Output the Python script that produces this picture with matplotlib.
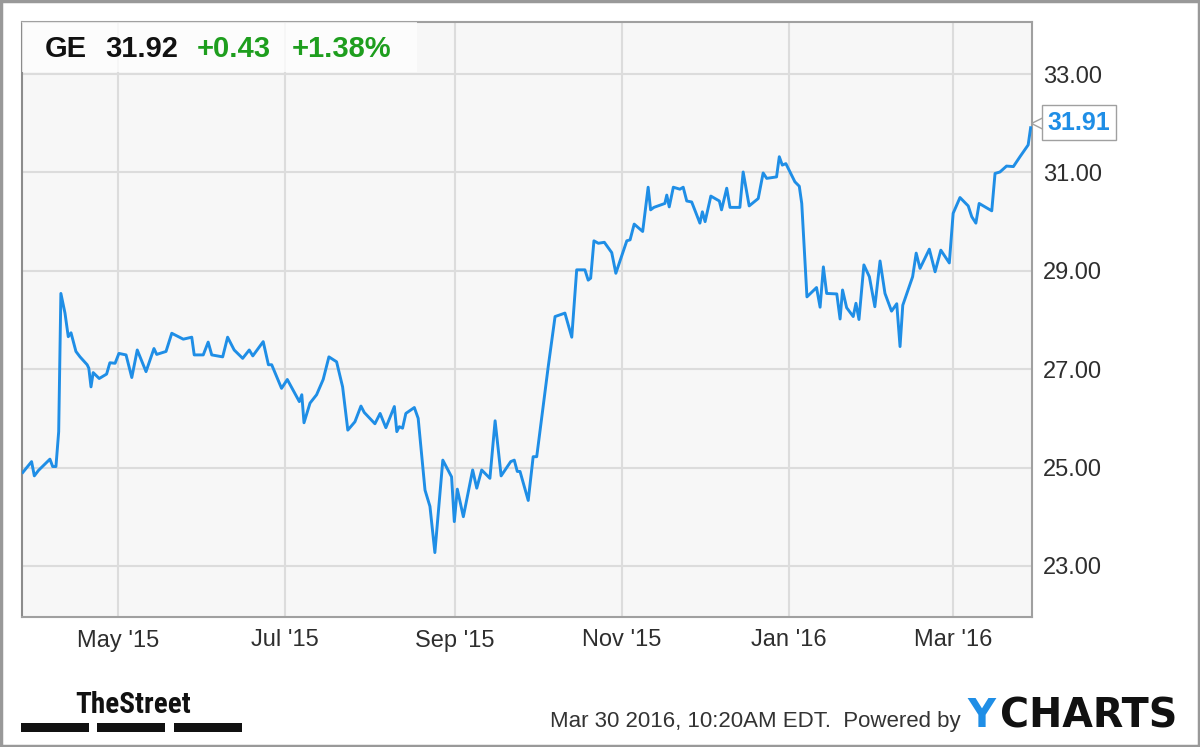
import matplotlib
matplotlib.use("Agg")
import matplotlib.pyplot as plt
import matplotlib.patches as mpatches
from matplotlib import transforms
import pandas as pd
import numpy as np

# ---------------- data ----------------
ticker = "GE"
last_price = "31.92"
change_abs = "+0.43"
change_pct = "+1.38%"
label_value = 31.91
start_date = "2015-03-27"

# days since start_date, and closing price
days = [0.3, 3.5, 4.5, 6.0, 10.2, 11.2, 12.4, 13.4, 14.2, 15.7, 16.9, 17.9, 19.7, 21.2,
        23.8, 24.4, 25.2, 26.0, 28.2, 30.9, 32.1, 34.0, 35.4, 38.0, 40.1, 42.1, 45.3,
        48.2, 49.2, 52.6, 54.7, 58.9, 62.0, 62.9, 66.2, 68.0, 69.3, 73.3, 75.1, 77.5,
        80.6, 83.0, 84.3, 88.1, 90.0, 91.2, 94.8, 96.9, 101.3, 102.2, 103.0, 105.2,
        107.6, 110.0, 112.1, 114.9, 117.1, 119.0, 121.6, 123.8, 125.0, 128.9, 130.8,
        132.9, 136.0, 136.9, 137.8, 139.0, 140.2, 143.3, 144.7, 147.2, 149.0, 150.8,
        153.7, 156.9, 157.9, 159.0, 161.2, 164.6, 166.1, 167.9, 170.9, 172.8, 175.0,
        178.5, 179.8, 180.9, 181.9, 184.9, 186.7, 188.0, 192.2, 194.7, 198.3, 200.8,
        202.6, 205.6, 206.8, 207.7, 208.9, 210.5, 212.7, 215.4, 216.9, 220.9, 222.1,
        223.6, 226.7, 228.7, 229.6, 230.8, 234.8, 235.5, 236.4, 237.9, 240.3, 241.5,
        242.8, 244.6, 247.6, 248.5, 249.5, 251.6, 254.7, 255.5, 257.4, 258.6, 262.2,
        263.4, 265.6, 268.9, 270.7, 272.0, 275.6, 276.6, 277.7, 279.0, 282.3, 283.9,
        284.8, 286.7, 290.2, 291.5, 292.7, 293.9, 297.6, 298.8, 299.7, 301.2, 303.6,
        304.6, 305.7, 307.5, 309.5, 311.5, 313.4, 315.2, 317.6, 319.5, 320.7, 321.7,
        325.3, 326.6, 328.0, 331.4, 333.5, 335.6, 338.7, 340.1, 342.6, 345.6, 346.9,
        348.4, 349.6, 354.2, 355.4, 357.2, 359.6, 362.1, 364.5, 367.5, 368.4]
prices = [24.90, 25.12, 24.83, 24.94, 25.17, 25.02, 25.02, 25.73, 28.54, 28.14, 27.66, 27.74,
          27.36, 27.25, 27.09, 27.02, 26.64, 26.93, 26.81, 26.90, 27.13, 27.12, 27.32, 27.29,
          26.83, 27.39, 26.95, 27.42, 27.30, 27.36, 27.73, 27.61, 27.65, 27.29, 27.29, 27.55,
          27.29, 27.25, 27.65, 27.39, 27.22, 27.39, 27.27, 27.56, 27.09, 27.09, 26.61, 26.79,
          26.34, 26.48, 25.91, 26.31, 26.48, 26.79, 27.25, 27.15, 26.64, 25.76, 25.93, 26.25,
          26.12, 25.89, 26.10, 25.81, 26.24, 25.73, 25.83, 25.80, 26.10, 26.22, 26.00, 24.54,
          24.21, 23.27, 25.15, 24.81, 23.90, 24.56, 24.00, 24.95, 24.58, 24.95, 24.78, 25.95,
          24.83, 25.12, 25.15, 24.92, 24.92, 24.33, 25.22, 25.22, 27.05, 28.07, 28.14, 27.65,
          29.02, 29.02, 28.81, 28.85, 29.61, 29.56, 29.58, 29.37, 28.95, 29.61, 29.63, 29.95,
          29.80, 30.70, 30.24, 30.29, 30.37, 30.54, 30.30, 30.70, 30.66, 30.70, 30.42, 30.40,
          29.97, 30.20, 30.00, 30.52, 30.42, 30.24, 30.68, 30.29, 30.29, 31.01, 30.32, 30.47,
          30.99, 30.88, 30.91, 31.32, 31.15, 31.18, 30.81, 30.72, 30.37, 28.47, 28.66, 28.26,
          29.08, 28.54, 28.53, 28.02, 28.61, 28.25, 28.07, 28.34, 28.01, 29.12, 28.88, 28.27,
          29.20, 28.54, 28.18, 28.33, 27.46, 28.30, 28.88, 29.36, 29.05, 29.44, 28.98, 29.42,
          29.16, 30.17, 30.49, 30.32, 30.10, 29.97, 30.37, 30.22, 30.98, 31.01, 31.13, 31.12,
          31.32, 31.56, 31.91]

xtick_dates = ["2015-05-01", "2015-07-01", "2015-09-01", "2015-11-01", "2016-01-01", "2016-03-01"]
xtick_labels = ["May '15", "Jul '15", "Sep '15", "Nov '15", "Jan '16", "Mar '16"]
ytick_values = [23, 25, 27, 29, 31, 33]

footer_text = "Mar 30 2016, 10:20AM EDT.  Powered by"

# ---------------- figure ----------------
W, H = 1200, 747
fig = plt.figure(figsize=(W / 100, H / 100), dpi=100)
fig.patch.set_facecolor("white")

def fx(px):
    return px / W

def fy(py):
    return 1 - py / H

ax_l, ax_r, ax_t, ax_b = 22, 1032, 22, 617
ax = fig.add_axes([fx(ax_l), fy(ax_b), fx(ax_r - ax_l), (ax_b - ax_t) / H])
ax.set_facecolor("#f7f7f7")

start = pd.Timestamp(start_date)
dates = [start + pd.Timedelta(days=d) for d in days]

line_color = "#1f8ee6"
ax.plot(dates, prices, color=line_color, lw=2.1, solid_joinstyle="round", zorder=3)

ax.set_xlim(start, start + pd.Timedelta(days=368.9))
ax.set_ylim(21.96, 34.06)

ax.set_xticks([pd.Timestamp(d) for d in xtick_dates])
ax.set_xticklabels(xtick_labels)
ax.set_yticks(ytick_values)
ax.set_yticklabels([f"{v:.2f}" for v in ytick_values])
ax.yaxis.tick_right()
ax.tick_params(axis="both", length=0, labelsize=17, labelcolor="#2e2e2e")
ax.tick_params(axis="y", pad=8)
ax.tick_params(axis="x", pad=9)
for lab in ax.get_xticklabels() + ax.get_yticklabels():
    lab.set_family("Liberation Sans")

ax.grid(True, color="#dcdcdc", lw=1.5, zorder=0)
ax.set_axisbelow(True)
for s in ax.spines.values():
    s.set_color("#a0a0a0")
    s.set_linewidth(1.5)
ax.spines["left"].set_color("#8c8c8c")

# header box
hdr = mpatches.Rectangle((0, (ax_b - 72) / (ax_b - ax_t)), (417 - ax_l) / (ax_r - ax_l),
                         1 - (ax_b - 72) / (ax_b - ax_t), transform=ax.transAxes,
                         facecolor="white", alpha=0.75, edgecolor="none", zorder=4)
ax.add_patch(hdr)

green = "#1e9e1e"
hy = fy(49)
fig.text(fx(45), hy, ticker, fontsize=21, fontweight="bold", color="#111111",
         va="center", ha="left", family="Liberation Sans")
fig.text(fx(105), hy, last_price, fontsize=21, fontweight="bold", color="#111111",
         va="center", ha="left", family="Liberation Sans")
fig.text(fx(197), hy, change_abs, fontsize=21, fontweight="bold", color=green,
         va="center", ha="left", family="Liberation Sans")
fig.text(fx(292), hy, change_pct, fontsize=21, fontweight="bold", color=green,
         va="center", ha="left", family="Liberation Sans")

# last value label
last_date = dates[-1]
arrow_tr = transforms.offset_copy(ax.transData, fig=fig, x=6, y=3.5, units="points")
ax.plot([last_date], [label_value], marker="<", markersize=11, markerfacecolor="white",
        markeredgecolor="#a0a0a0", markeredgewidth=1.0, transform=arrow_tr,
        clip_on=False, zorder=5)
ax.annotate(f"{label_value:.2f}", xy=(last_date, label_value), xytext=(12, 3.5),
            textcoords="offset points", ha="left", va="center", fontsize=18,
            fontweight="bold", color=line_color, family="Liberation Sans",
            bbox=dict(boxstyle="square,pad=0.22", fc="white", ec="#a0a0a0", lw=1.0),
            annotation_clip=False, zorder=6)

# footer
fig.text(fx(961), fy(727), footer_text, fontsize=16, color="#333333", ha="right",
         va="baseline", family="Liberation Sans")
fig.text(fx(967), fy(727), "Y", fontsize=28, fontweight="bold", color=line_color,
         ha="left", va="baseline", family="DejaVu Sans")
fig.text(fx(1000), fy(727), "CHARTS", fontsize=28.5, fontweight="bold", color="#111111",
         ha="left", va="baseline", family="DejaVu Sans")

fig.text(fx(75), fy(713), "TheStreet", fontsize=21, fontweight="bold", color="#111111",
         ha="left", va="baseline",
         family=["Roboto Condensed", "Liberation Sans Narrow", "Liberation Sans"])
for x0, x1 in [(21, 89), (97, 165), (174, 242)]:
    fig.add_artist(mpatches.Rectangle((fx(x0), fy(732)), fx(x1 - x0), 9 / H,
                                      transform=fig.transFigure, facecolor="#111111",
                                      edgecolor="none"))

# outer border
fig.add_artist(mpatches.Rectangle((0.001, 0.0015), 0.998, 0.997, transform=fig.transFigure,
                                  facecolor="none", edgecolor="#999999", lw=2.5))

fig.savefig("out.png", dpi=100)
